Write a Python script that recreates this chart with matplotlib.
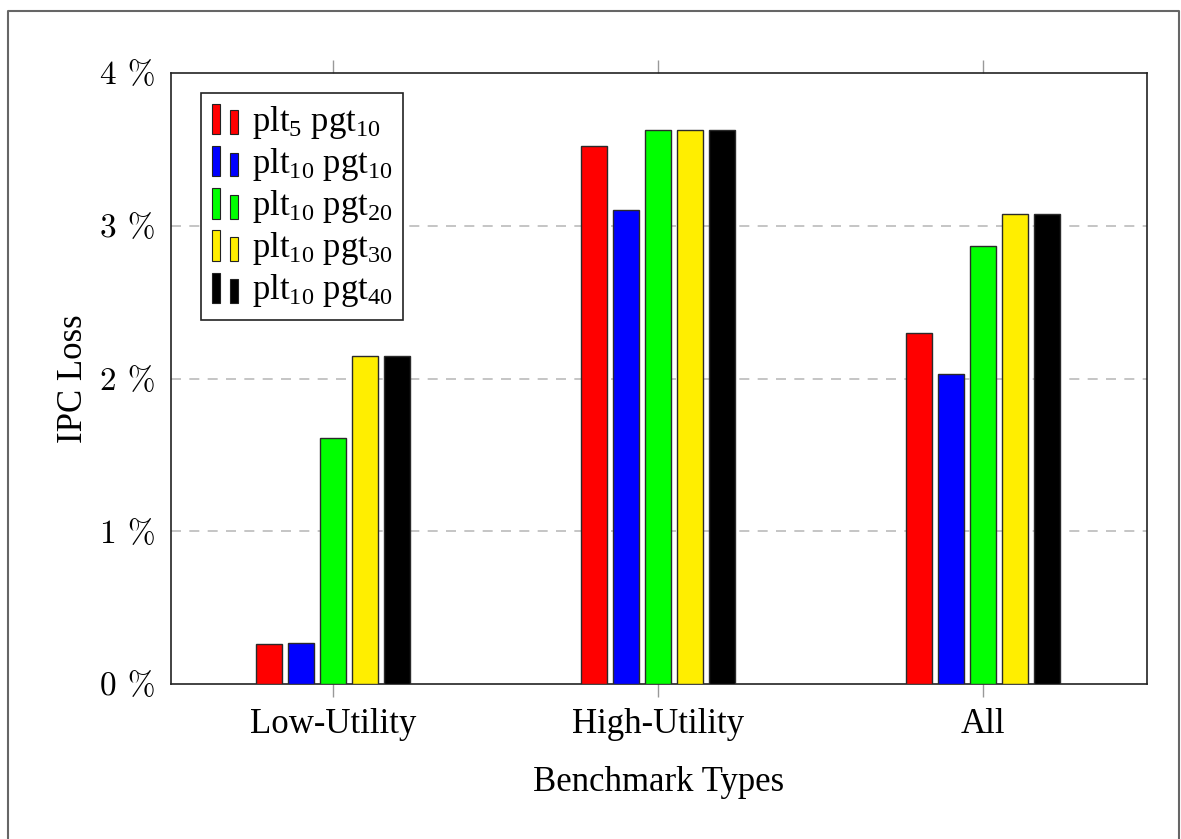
import numpy as np
import matplotlib
matplotlib.use("Agg")
import matplotlib.pyplot as plt
from matplotlib.patches import Rectangle
from matplotlib.lines import Line2D
from matplotlib.legend_handler import HandlerBase

plt.rcParams["font.family"] = "Liberation Serif"
plt.rcParams["mathtext.fontset"] = "custom"
plt.rcParams["mathtext.rm"] = "Liberation Serif"
plt.rcParams["mathtext.it"] = "Liberation Serif:italic"

# data (IPC loss in %)
categories = ["Low-Utility", "High-Utility", "All"]
series_labels = [r"plt$_{5}$ pgt$_{10}$", r"plt$_{10}$ pgt$_{10}$",
                 r"plt$_{10}$ pgt$_{20}$", r"plt$_{10}$ pgt$_{30}$",
                 r"plt$_{10}$ pgt$_{40}$"]
plt5_pgt10 = [0.26, 3.52, 2.30]
plt10_pgt10 = [0.27, 3.10, 2.03]
plt10_pgt20 = [1.61, 3.63, 2.87]
plt10_pgt30 = [2.15, 3.63, 3.08]
plt10_pgt40 = [2.15, 3.63, 3.08]
yticks = [0, 1, 2, 3, 4]

series = [plt5_pgt10, plt10_pgt10, plt10_pgt20, plt10_pgt30, plt10_pgt40]
colors = ["#ff0000", "#0000ff", "#00ff00", "#ffee00", "#000000"]


class TwoBarHandler(HandlerBase):
    """pgfplots-style ybar legend image: two little bars."""
    def create_artists(self, legend, orig_handle, xdescent, ydescent,
                       width, height, fontsize, trans):
        fc = orig_handle.get_facecolor()
        w = width * 0.3
        y0 = -ydescent - height * 0.15
        r1 = Rectangle((-xdescent, y0), w, height * 1.25, facecolor=fc,
                       edgecolor="#222222", lw=0.8, transform=trans)
        r2 = Rectangle((-xdescent + width * 0.65, y0), w, height * 0.98,
                       facecolor=fc, edgecolor="#222222", lw=0.8,
                       transform=trans)
        return [r1, r2]


fig = plt.figure(figsize=(11.81, 8.39), dpi=100)
ax = fig.add_axes([171 / 1181, 1 - 684 / 839, 976 / 1181, 611 / 839])

x = np.arange(len(categories))
step = 0.0985
width = 0.08
handles = []
for i, (vals, c) in enumerate(zip(series, colors)):
    b = ax.bar(x + (i - 2) * step, vals, width, color=c,
               edgecolor="#2a2a2a", linewidth=1.0, zorder=3)
    handles.append(b[0])

ax.set_xlim(-0.5, 2.505)
ax.set_ylim(0, 4.0)
ax.set_xticks(x)
ax.set_xticklabels(categories, fontsize=25)
ax.set_yticks(yticks)
ax.set_yticklabels([f"{t} %" for t in yticks], fontsize=24, family="cmr10")
ax.tick_params(axis="x", direction="out", length=9.5, width=1.0,
               color="#999999", top=True, pad=8)
ax.tick_params(axis="y", length=0, pad=11)

for t in [1, 2, 3]:
    ax.axhline(t, color="#bbbbbb", lw=1.2, ls=(0, (6, 5)), zorder=1)

for s in ax.spines.values():
    s.set_linewidth(1.2)
    s.set_color("#222222")

ax.set_xlabel("Benchmark Types", fontsize=25, labelpad=18)
ax.set_ylabel("IPC Loss", fontsize=25, labelpad=7)

leg = ax.legend(handles, series_labels, loc="upper left",
                bbox_to_anchor=(0.031, 0.967), fontsize=25,
                handler_map={h: TwoBarHandler() for h in handles},
                handlelength=0.8, handletextpad=0.35, labelspacing=0.15,
                borderpad=0.3, borderaxespad=0, fancybox=False,
                framealpha=1, edgecolor="#222222")
leg.get_frame().set_linewidth(1.2)

# page frame
fig.add_artist(Line2D([7.5 / 1181, 7.5 / 1181, 1179 / 1181, 1179 / 1181],
                      [0, 1 - 10.5 / 839, 1 - 10.5 / 839, 0],
                      transform=fig.transFigure, color="#666666", lw=1.5))

fig.savefig("out.png", dpi=100)
